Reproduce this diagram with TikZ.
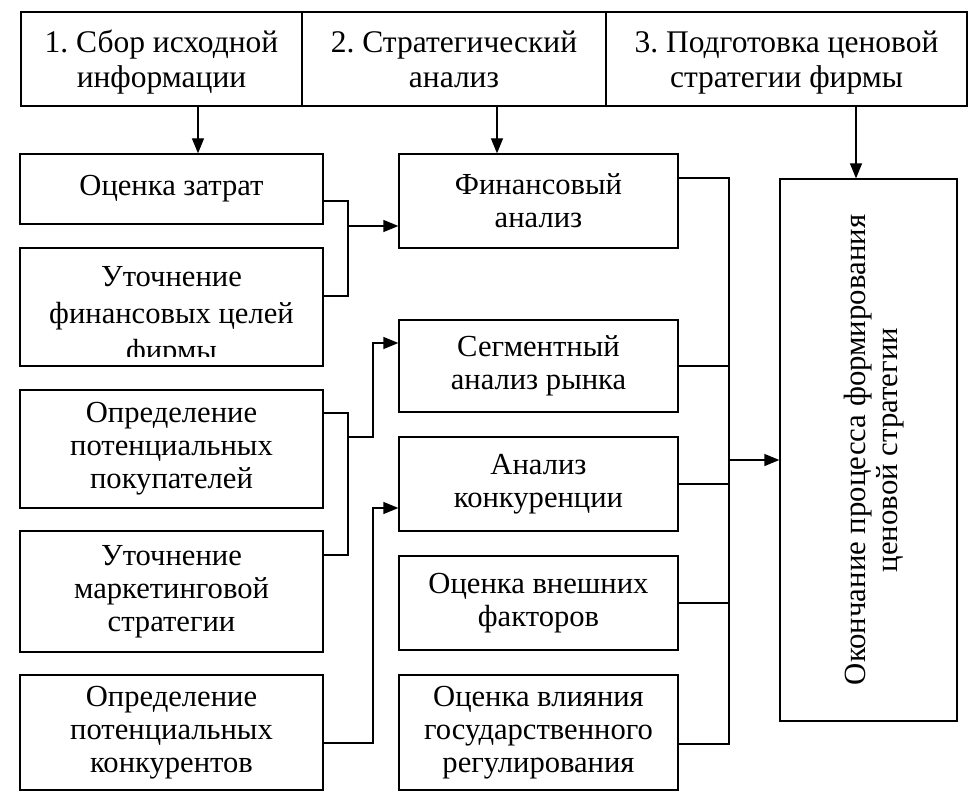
\documentclass[tikz,border=0pt]{standalone}
\usepackage{fontspec}
\setmainfont{Liberation Serif}
\usetikzlibrary{arrows.meta}
\frenchspacing
\tikzset{
  box/.style={draw, line width=1.3pt, rectangle, inner sep=0pt, align=center,
              font=\fontsize{30.6}{33}\selectfont},
  topbox/.style={box, font=\fontsize{31.5}{35}\selectfont},
  line/.style={draw, line width=1.3pt},
  arr/.style={line, -{Triangle[length=15pt,width=12pt]}}
}
\newcommand{\topstrut}{\rule{0pt}{32pt}}
\begin{document}
\begin{tikzpicture}[x=1pt,y=-1pt]
\useasboundingbox[fill=white] (0,0) rectangle (975,805);
% top row
\node[topbox, minimum width=281pt, minimum height=94pt] (t1) at (161.5,59) {\topstrut 1. Сбор исходной\\информации\strut};
\node[topbox, minimum width=304pt, minimum height=94pt] (t2) at (454,59) {\topstrut 2. Стратегический\\анализ\strut};
\node[topbox, minimum width=361pt, minimum height=94pt] (t3) at (786.5,59) {\topstrut 3. Подготовка ценовой\\стратегии фирмы\strut};
% left column
\node[box, minimum width=303pt, minimum height=70pt] (L1) at (171.5,189) {Оценка затрат\rule[-6pt]{0pt}{0pt}};
\node[box, minimum width=303pt, minimum height=118pt] (L2) at (171.5,307) {};
\begin{scope}
  \clip (L2.north west) rectangle ([yshift=10pt]L2.south east);
  \node[align=center, inner sep=0pt, font=\fontsize{30.6}{37}\selectfont] (L2t) at (171.5,317) {Уточнение\\финансовых целей\\фирмы};
\end{scope}
\node[box, minimum width=303pt, minimum height=118pt] (L3) at (171.5,449) {Определение\\потенциальных\\покупателей};
\node[box, minimum width=303pt, minimum height=121pt] (L4) at (171.5,591.5) {Уточнение\\маркетинговой\\стратегии};
\node[box, minimum width=303pt, minimum height=115pt] (L5) at (171.5,732.5) {Определение\\потенциальных\\конкурентов};
% middle column
\node[box, minimum width=279pt, minimum height=94pt] (M1) at (538.5,201) {Финансовый\\анализ};
\node[box, minimum width=279pt, minimum height=92pt] (M2) at (538.5,366) {Сегментный\\анализ рынка};
\node[box, minimum width=279pt, minimum height=94pt] (M3) at (538.5,484) {Анализ\\конкуренции};
\node[box, minimum width=279pt, minimum height=94pt] (M4) at (538.5,603) {Оценка внешних\\факторов};
\node[box, minimum width=279pt, minimum height=115pt] (M5) at (538.5,732.5) {Оценка влияния\\государственного\\регулирования};
% final
\node[box, minimum width=177pt, minimum height=542pt] (F) at (868.5,450) {};
\node[rotate=90, align=center, inner sep=0pt, font=\fontsize{30.8}{32}\selectfont] (Ft) at ([xshift=6pt]F.center)
  {Окончание процесса формирования\\ценовой стратегии};
% top arrows
\draw[arr] ([xshift=36.5pt]t1.south) -- ([xshift=26.5pt]L1.north);
\draw[arr] ([xshift=43pt]t2.south) -- ([xshift=-41.5pt]M1.north);
\draw[arr] ([xshift=69.5pt]t3.south) -- ([xshift=-12.5pt]F.north);
% left connectors
\coordinate (j1) at (348,226);
\draw[line] ([yshift=-12pt]L1.east) -| (j1) |- ([yshift=11pt]L2.east);
\draw[arr] (j1) -- (M1.west |- j1);
\coordinate (j2) at (348,437);
\coordinate (k2) at (373,343);
\draw[line] ([yshift=36pt]L3.east) -| (j2) |- ([yshift=36.5pt]L4.east);
\draw[arr] (j2) -| (k2) -- (M2.west |- k2);
\coordinate (k3) at (373,508);
\draw[arr] ([yshift=-10.5pt]L5.east) -| (k3) -- (M3.west |- k3);
% right bus
\coordinate (bt) at (729,178);
\coordinate (bb) at (729,744);
\draw[line] ([yshift=23pt]M1.east) -- (bt) -- (bb) -- ([yshift=-11.5pt]M5.east);
\draw[line] (M2.east) -- (M2.east -| bt);
\draw[line] (M3.east) -- (M3.east -| bt);
\draw[line] (M4.east) -- (M4.east -| bt);
\coordinate (jb) at (729,460);
\draw[arr] (jb) -- (F.west |- jb);
\end{tikzpicture}
\end{document}
